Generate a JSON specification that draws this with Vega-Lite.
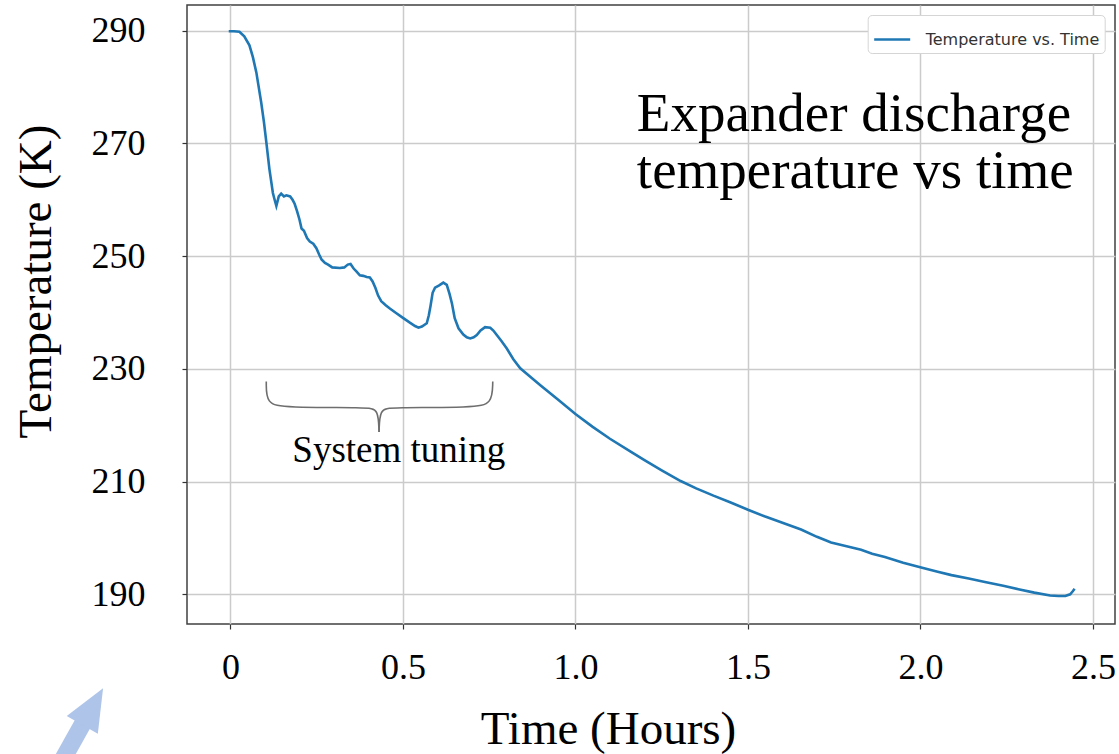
{
  "$schema": "https://vega.github.io/schema/vega-lite/v6.json",
  "width": 928,
  "height": 619,
  "autosize": {"type": "none"},
  "padding": {"left": 187, "top": 5, "right": 4, "bottom": 130},
  "background": "white",
  "config": {
    "view": {"stroke": "#404040", "strokeWidth": 1.5},
    "axis": {
      "labelFont": "Liberation Serif",
      "titleFont": "Liberation Serif",
      "labelColor": "#000",
      "titleColor": "#000",
      "titleFontWeight": "normal",
      "gridColor": "#cbcbcb",
      "gridWidth": 1.5,
      "tickColor": "#333",
      "tickSize": 5,
      "tickWidth": 1.2,
      "domain": false,
      "labelFontSize": 36,
      "titleFontSize": 47
    }
  },
  "datasets": {
    "temp": [
      {"t": -0.005, "T": 289.9}, {"t": 0.01, "T": 289.9}, {"t": 0.026, "T": 289.8}, {"t": 0.04, "T": 289.0},
      {"t": 0.055, "T": 287.4}, {"t": 0.065, "T": 285.3}, {"t": 0.075, "T": 282.6}, {"t": 0.089, "T": 277.3},
      {"t": 0.097, "T": 273.8}, {"t": 0.104, "T": 270.2}, {"t": 0.113, "T": 265.4}, {"t": 0.123, "T": 261.2},
      {"t": 0.128, "T": 260.0}, {"t": 0.133, "T": 258.9}, {"t": 0.14, "T": 260.6}, {"t": 0.147, "T": 261.1},
      {"t": 0.155, "T": 260.6}, {"t": 0.162, "T": 260.8}, {"t": 0.173, "T": 260.6}, {"t": 0.18, "T": 260.0},
      {"t": 0.186, "T": 259.3}, {"t": 0.193, "T": 258.0}, {"t": 0.2, "T": 256.5}, {"t": 0.206, "T": 254.9},
      {"t": 0.213, "T": 254.5}, {"t": 0.222, "T": 253.2}, {"t": 0.23, "T": 252.6}, {"t": 0.24, "T": 252.2},
      {"t": 0.249, "T": 251.4}, {"t": 0.257, "T": 250.3}, {"t": 0.264, "T": 249.4}, {"t": 0.274, "T": 248.8},
      {"t": 0.283, "T": 248.5}, {"t": 0.295, "T": 248.0}, {"t": 0.317, "T": 247.9}, {"t": 0.33, "T": 248.0},
      {"t": 0.34, "T": 248.5}, {"t": 0.348, "T": 248.6}, {"t": 0.357, "T": 247.8}, {"t": 0.365, "T": 247.3},
      {"t": 0.375, "T": 246.6}, {"t": 0.385, "T": 246.5}, {"t": 0.395, "T": 246.3}, {"t": 0.404, "T": 246.2},
      {"t": 0.412, "T": 245.5}, {"t": 0.42, "T": 244.4}, {"t": 0.428, "T": 243.0}, {"t": 0.437, "T": 242.0},
      {"t": 0.45, "T": 241.3}, {"t": 0.462, "T": 240.7}, {"t": 0.48, "T": 239.9}, {"t": 0.501, "T": 239.0},
      {"t": 0.52, "T": 238.2}, {"t": 0.535, "T": 237.6}, {"t": 0.545, "T": 237.3}, {"t": 0.555, "T": 237.5},
      {"t": 0.569, "T": 238.1}, {"t": 0.575, "T": 239.5}, {"t": 0.58, "T": 241.2}, {"t": 0.586, "T": 243.5},
      {"t": 0.593, "T": 244.4}, {"t": 0.605, "T": 244.8}, {"t": 0.617, "T": 245.3}, {"t": 0.627, "T": 244.9},
      {"t": 0.635, "T": 243.3}, {"t": 0.642, "T": 241.6}, {"t": 0.65, "T": 239.0}, {"t": 0.661, "T": 237.2},
      {"t": 0.675, "T": 236.1}, {"t": 0.685, "T": 235.6}, {"t": 0.695, "T": 235.4}, {"t": 0.705, "T": 235.6},
      {"t": 0.714, "T": 236.0}, {"t": 0.725, "T": 236.8}, {"t": 0.738, "T": 237.4}, {"t": 0.753, "T": 237.3},
      {"t": 0.762, "T": 236.8}, {"t": 0.772, "T": 236.0}, {"t": 0.786, "T": 234.9}, {"t": 0.801, "T": 233.6},
      {"t": 0.82, "T": 231.7}, {"t": 0.84, "T": 230.1}, {"t": 0.869, "T": 228.6}, {"t": 0.9, "T": 227.0},
      {"t": 0.95, "T": 224.5}, {"t": 1.0, "T": 222.0}, {"t": 1.05, "T": 219.7}, {"t": 1.1, "T": 217.6},
      {"t": 1.16, "T": 215.3}, {"t": 1.2, "T": 213.8}, {"t": 1.25, "T": 212.0}, {"t": 1.305, "T": 210.1},
      {"t": 1.35, "T": 208.8}, {"t": 1.4, "T": 207.5}, {"t": 1.45, "T": 206.3}, {"t": 1.5, "T": 205.0},
      {"t": 1.55, "T": 203.8}, {"t": 1.6, "T": 202.7}, {"t": 1.654, "T": 201.5}, {"t": 1.7, "T": 200.2},
      {"t": 1.741, "T": 199.2}, {"t": 1.78, "T": 198.6}, {"t": 1.828, "T": 197.9}, {"t": 1.86, "T": 197.2},
      {"t": 1.897, "T": 196.6}, {"t": 1.95, "T": 195.6}, {"t": 2.005, "T": 194.7}, {"t": 2.05, "T": 194.0},
      {"t": 2.09, "T": 193.4}, {"t": 2.14, "T": 192.8}, {"t": 2.187, "T": 192.2}, {"t": 2.24, "T": 191.5},
      {"t": 2.284, "T": 190.9}, {"t": 2.33, "T": 190.3}, {"t": 2.376, "T": 189.8}, {"t": 2.4, "T": 189.7},
      {"t": 2.42, "T": 189.7}, {"t": 2.434, "T": 190.0}, {"t": 2.441, "T": 190.5}, {"t": 2.447, "T": 191.0}
    ],
    "brace": [
      {"side": "L", "i": 0, "t": 0.1038, "T": 227.76},
      {"side": "L", "i": 1, "t": 0.1038, "T": 223.76},
      {"side": "L", "i": 2, "t": 0.1574, "T": 223.14},
      {"side": "L", "i": 3, "t": 0.398, "T": 223.14},
      {"side": "L", "i": 4, "t": 0.4284, "T": 222.88},
      {"side": "L", "i": 5, "t": 0.4307, "T": 218.8},
      {"side": "R", "i": 0, "t": 0.4307, "T": 218.8},
      {"side": "R", "i": 1, "t": 0.4328, "T": 222.88},
      {"side": "R", "i": 2, "t": 0.4646, "T": 223.14},
      {"side": "R", "i": 3, "t": 0.7052, "T": 223.14},
      {"side": "R", "i": 4, "t": 0.7588, "T": 223.76},
      {"side": "R", "i": 5, "t": 0.7603, "T": 227.76}
    ],
    "notes": [
      {"t": 1.178, "T": 272.26, "label": ["Expander discharge", "temperature vs time"], "kind": "big"},
      {"t": 0.4878, "T": 213.53, "label": "System tuning", "kind": "small"}
    ],
    "arrowShaft": [
      {"t": -0.4867, "T": 160.64, "t2": -0.425, "T2": 167.4}
    ],
    "arrowHead": [
      {"t": -0.3994, "T": 170.09}
    ]
  },
  "layer": [
    {
      "data": {"name": "temp"},
      "mark": {"type": "line", "strokeWidth": 2.6},
      "encoding": {
        "x": {
          "field": "t", "type": "quantitative",
          "scale": {"domain": [-0.126, 2.564], "nice": false, "zero": false},
          "axis": {
            "values": [0, 0.5, 1, 1.5, 2, 2.5],
            "labelExpr": "datum.value == 0 ? '0' : format(datum.value, '.1f')",
            "title": "Time (Hours)",
            "titleX": 421, "titleY": 119,
            "titleBaseline": "alphabetic", "titleAlign": "center",
            "labelBaseline": "alphabetic", "labelPadding": 49, "labelDx": -5,
            "labelFlush": false, "labelOverlap": false, "grid": true
          }
        },
        "y": {
          "field": "T", "type": "quantitative",
          "scale": {"domain": [184.73, 294.56], "nice": false, "zero": false},
          "axis": {
            "values": [190, 210, 230, 250, 270, 290],
            "title": "Temperature (K)",
            "titleX": -137, "titleY": 276,
            "titleBaseline": "alphabetic", "titleAlign": "center",
            "labelBaseline": "middle", "labelPadding": 37, "labelDy": 3,
            "labelFlush": false, "labelOverlap": false, "grid": true
          }
        },
        "color": {
          "datum": "Temperature vs. Time",
          "scale": {"range": ["#1f77b4"]},
          "legend": {
            "orient": "none", "legendX": 680.7, "legendY": 10,
            "title": null,
            "symbolType": "stroke", "symbolSize": 1296, "symbolStrokeWidth": 2.6,
            "labelFont": "DejaVu Sans", "labelFontSize": 16, "labelColor": "#333",
            "labelOffset": 14, "labelLimit": 400,
            "fillColor": "white", "strokeColor": "#d5d5d5", "cornerRadius": 4,
            "padding": 5
          }
        }
      }
    },
    {
      "data": {"name": "brace"},
      "mark": {"type": "line", "interpolate": "basis", "color": "#6e6e6e", "strokeWidth": 1.6},
      "encoding": {
        "x": {"field": "t", "type": "quantitative"},
        "y": {"field": "T", "type": "quantitative"},
        "detail": {"field": "side"},
        "order": {"field": "i", "type": "quantitative"}
      }
    },
    {
      "data": {"name": "notes"},
      "transform": [{"filter": "datum.kind == 'big'"}],
      "mark": {"type": "text", "font": "Liberation Serif", "fontSize": 55, "align": "left", "baseline": "alphabetic", "lineHeight": 57, "color": "#000"},
      "encoding": {
        "x": {"field": "t", "type": "quantitative"},
        "y": {"field": "T", "type": "quantitative"},
        "text": {"field": "label"}
      }
    },
    {
      "data": {"name": "notes"},
      "transform": [{"filter": "datum.kind == 'small'"}],
      "mark": {"type": "text", "font": "Liberation Serif", "fontSize": 37, "align": "center", "baseline": "alphabetic", "color": "#000"},
      "encoding": {
        "x": {"field": "t", "type": "quantitative"},
        "y": {"field": "T", "type": "quantitative"},
        "text": {"field": "label"}
      }
    },
    {
      "data": {"name": "arrowShaft"},
      "mark": {"type": "rule", "color": "#aec4e8", "strokeWidth": 17.4, "strokeCap": "butt"},
      "encoding": {
        "x": {"field": "t", "type": "quantitative"},
        "y": {"field": "T", "type": "quantitative"},
        "x2": {"field": "t2"},
        "y2": {"field": "T2"}
      }
    },
    {
      "data": {"name": "arrowHead"},
      "mark": {"type": "point", "shape": "M0,-1L0.846,1L-0.846,1Z", "size": 1781, "angle": 29.5, "filled": true, "color": "#aec4e8", "opacity": 1, "strokeWidth": 0},
      "encoding": {
        "x": {"field": "t", "type": "quantitative"},
        "y": {"field": "T", "type": "quantitative"}
      }
    }
  ]
}
